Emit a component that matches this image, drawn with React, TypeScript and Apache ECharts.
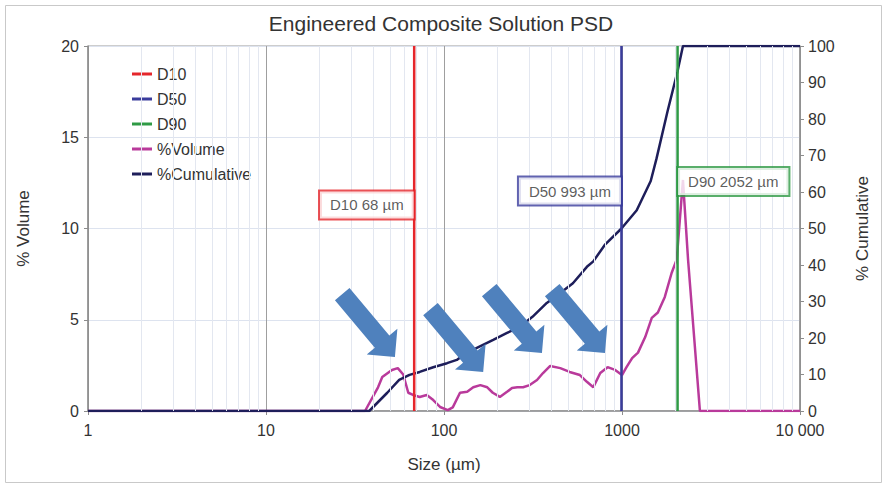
import React, { useEffect, useRef } from "react";
import * as echarts from "echarts";

const chartTitle = "Engineered Composite Solution PSD";
const xAxisName = "Size (µm)";
const leftAxisName = "% Volume";
const rightAxisName = "% Cumulative";

const xTickValues = [1, 10, 100, 1000, 10000];
const xTickLabels = ["1", "10", "100", "1000", "10 000"];
const minorGridSizes = [
  2, 3, 4, 5, 6, 7, 8, 9,
  20, 30, 40, 50, 60, 70, 80, 90,
  200, 300, 400, 500, 600, 700, 800, 900,
  2000, 3000, 4000, 5000, 6000, 7000, 8000, 9000,
];

// %Volume (left axis)
const volumeSizes = [
  1, 36, 42.6, 45, 51, 55, 59, 63, 67, 73, 80, 87, 95, 105, 112, 123, 135, 146,
  160, 175, 188, 206, 226, 241, 258, 278, 303, 333, 360, 395, 450, 508, 580,
  635, 690, 755, 830, 915, 1000, 1060, 1140, 1230, 1350, 1470, 1590, 1740,
  1900, 2030, 2200, 2350, 2740, 10000,
];
const volumeValues = [
  0, 0, 1.3, 1.86, 2.25, 2.35, 2.0, 1.0, 0.88, 0.77, 0.88, 0.6, 0.22, 0.05, 0.2,
  1.0, 1.05, 1.3, 1.42, 1.3, 1.0, 0.77, 1.05, 1.26, 1.3, 1.3, 1.42, 1.7, 2.08,
  2.47, 2.35, 2.14, 1.97, 1.6, 1.3, 2.08, 2.4, 2.25, 1.97, 2.4, 2.9, 3.2, 4.05,
  5.1, 5.4, 6.25, 7.56, 8.3, 12.66, 8.3, 0, 0,
];

// %Cumulative (right axis)
const cumulativeSizes = [
  1, 38, 48, 56, 64, 73, 87, 104, 118, 128, 153, 189, 226, 266, 314, 378, 450,
  530, 635, 690, 800, 993, 1210, 1450, 1560, 1800, 2050, 2200, 10000,
];
const cumulativeValues = [
  0, 0, 5.0, 8.5, 9.9, 10.7, 12, 13.1, 14, 15.3, 17.3, 19.5, 21.4, 23, 25.8,
  29.6, 32.3, 35, 39.5, 41, 45.5, 50, 55, 63, 69, 82, 93, 100, 100,
];

// Dx markers
const dNames = ["D10", "D50", "D90"];
const dValues = [68, 993, 2052];
const dLabels = ["D10 68 µm", "D50 993 µm", "D90 2052 µm"];

// annotation anchors (in data units of the left axis)
const dLabelLevels = [11.29, 12.05, 12.58];
const dLabelSides = ["left", "left", "right"];
const arrowTipSizes = [53, 166, 355, 802];
const arrowTipLevels = [2.96, 2.14, 3.18, 3.18];

const FONT = "'Liberation Sans', Arial, sans-serif";
const dColors = ["#e5262b", "#3a3c9c", "#2f9a45"];
const volumeColor = "#b93a9b";
const cumulativeColor = "#1e1e5a";
const arrowColor = "#4f81bd";
const textColor = "#333333";

export default function App() {
  const ref = useRef<HTMLDivElement>(null);

  useEffect(() => {
    if (!ref.current) return;
    const chart = echarts.init(ref.current, undefined, { renderer: "svg" });

    const volumeData = volumeSizes.map((s, i) => [s, volumeValues[i]]);
    const cumulativeData = cumulativeSizes.map((s, i) => [s, cumulativeValues[i]]);

    const dSeries = dNames.map((name, i) => ({
      name,
      type: "line",
      yAxisIndex: 0,
      data: [
        [dValues[i], 0],
        [dValues[i], 20],
      ],
      symbol: "none",
      color: dColors[i],
      lineStyle: { color: dColors[i], width: 2.5 },
      z: 4,
      silent: true,
    }));

    const labelSeries = dNames.map((name, i) => ({
      name: name + " label",
      type: "scatter",
      yAxisIndex: 0,
      data: [[dValues[i], dLabelLevels[i]]],
      symbolSize: 1,
      itemStyle: { color: "rgba(0,0,0,0)" },
      silent: true,
      z: 6,
      label: {
        show: true,
        position: dLabelSides[i],
        distance: 0,
        formatter: dLabels[i],
        fontFamily: FONT,
        fontSize: 15,
        color: textColor,
        backgroundColor: "#ffffff",
        borderColor: dColors[i],
        borderWidth: 2,
        padding: [6, 10, 6, 10],
      },
    }));

    const option: any = {
      animation: false,
      backgroundColor: "#ffffff",
      textStyle: { fontFamily: FONT },
      title: {
        text: chartTitle,
        left: "center",
        top: 8,
        textStyle: { fontFamily: FONT, fontSize: 21, fontWeight: "normal", color: textColor },
      },
      legend: {
        orient: "vertical",
        left: 132,
        top: 66,
        padding: 0,
        itemWidth: 20,
        itemHeight: 3,
        itemGap: 9,
        selectedMode: false,
        textStyle: { fontFamily: FONT, fontSize: 16, color: textColor, lineHeight: 16 },
        data: [
          { name: "D10", icon: "rect" },
          { name: "D50", icon: "rect" },
          { name: "D90", icon: "rect" },
          { name: "%Volume", icon: "rect" },
          { name: "%Cumulative", icon: "rect" },
        ],
      },
      grid: {
        left: 88,
        right: 82,
        top: 46,
        bottom: 73,
        show: true,
        borderColor: "#9a9a9a",
        borderWidth: 1,
      },
      graphic: [
        {
          type: "rect",
          left: 3,
          top: 3,
          shape: { width: 876, height: 477 },
          style: { fill: "none", stroke: "#c9c9c9", lineWidth: 1 },
          silent: true,
        },
      ],
      xAxis: {
        type: "log",
        logBase: 10,
        min: 1,
        max: 10000,
        name: xAxisName,
        nameLocation: "middle",
        nameGap: 45,
        nameTextStyle: { fontFamily: FONT, fontSize: 17, color: textColor },
        axisLine: { onZero: false, lineStyle: { color: "#8c8c8c", width: 1.5 } },
        axisTick: { show: true, length: 4, lineStyle: { color: "#8c8c8c" } },
        axisLabel: {
          fontFamily: FONT,
          fontSize: 16,
          color: textColor,
          margin: 11,
          formatter: (v: number) => {
            const idx = xTickValues.findIndex((t) => Math.abs(t - v) / t < 1e-6);
            return idx >= 0 ? xTickLabels[idx] : "";
          },
        },
        splitLine: { show: true, lineStyle: { color: "#9f9f9f", width: 1 } },
      },
      yAxis: [
        {
          type: "value",
          position: "left",
          min: 0,
          max: 20,
          interval: 5,
          name: leftAxisName,
          nameLocation: "middle",
          nameGap: 56,
          nameTextStyle: { fontFamily: FONT, fontSize: 17, color: textColor },
          axisLine: { show: true, lineStyle: { color: "#8c8c8c", width: 1.5 } },
          axisTick: { show: true, length: 4, lineStyle: { color: "#8c8c8c" } },
          axisLabel: { fontFamily: FONT, fontSize: 16, color: textColor, margin: 9 },
          splitLine: { show: true, lineStyle: { color: "#dde3ef", width: 1 } },
        },
        {
          type: "value",
          position: "right",
          min: 0,
          max: 100,
          interval: 10,
          name: rightAxisName,
          nameLocation: "middle",
          nameGap: 54,
          nameTextStyle: { fontFamily: FONT, fontSize: 17, color: textColor },
          axisLine: { show: true, lineStyle: { color: "#8c8c8c", width: 1.5 } },
          axisTick: { show: true, length: 4, lineStyle: { color: "#8c8c8c" } },
          axisLabel: { fontFamily: FONT, fontSize: 16, color: textColor, margin: 8 },
          splitLine: { show: false },
        },
      ],
      series: [
        {
          name: "minor grid",
          type: "line",
          yAxisIndex: 0,
          data: [[1, 0]],
          symbol: "none",
          lineStyle: { opacity: 0 },
          silent: true,
          z: 1,
          markLine: {
            silent: true,
            symbol: ["none", "none"],
            label: { show: false },
            lineStyle: { color: "#e3e7f0", width: 1, type: "solid" },
            emphasis: { disabled: true },
            data: minorGridSizes.map((v) => ({ xAxis: v })),
          },
        },
        {
          name: "%Volume",
          type: "line",
          yAxisIndex: 0,
          data: volumeData,
          symbol: "none",
          color: volumeColor,
          lineStyle: { color: volumeColor, width: 2.5 },
          z: 3,
        },
        {
          name: "%Cumulative",
          type: "line",
          yAxisIndex: 1,
          data: cumulativeData,
          symbol: "none",
          color: cumulativeColor,
          lineStyle: { color: cumulativeColor, width: 2.5 },
          z: 3,
        },
        ...dSeries,
        ...labelSeries,
        {
          name: "arrows",
          type: "custom",
          yAxisIndex: 0,
          coordinateSystem: "cartesian2d",
          data: arrowTipSizes.map((s, i) => [s, arrowTipLevels[i]]),
          encode: { x: 0, y: 1 },
          clip: false,
          silent: true,
          z: 7,
          renderItem: (params: any, api: any) => {
            const p = api.coord([api.value(0), api.value(1)]);
            const ang = (50 * Math.PI) / 180;
            const d = [Math.cos(ang), Math.sin(ang)];
            const n = [-Math.sin(ang), Math.cos(ang)];
            const H = 20;
            const W = 20;
            const S = 9.5;
            const L = 82;
            const pt = (along: number, across: number) => [
              p[0] - along * d[0] + across * n[0],
              p[1] - along * d[1] + across * n[1],
            ];
            return {
              type: "polygon",
              shape: {
                points: [pt(0, 0), pt(H, W), pt(H, S), pt(L, S), pt(L, -S), pt(H, -S), pt(H, -W)],
              },
              style: { fill: arrowColor },
            };
          },
        },
      ],
    };

    chart.setOption(option);
    return () => chart.dispose();
  }, []);

  return (
    <div
      ref={ref}
      style={{ position: "absolute", left: 0, top: 0, width: 882, height: 484 }}
    />
  );
}
